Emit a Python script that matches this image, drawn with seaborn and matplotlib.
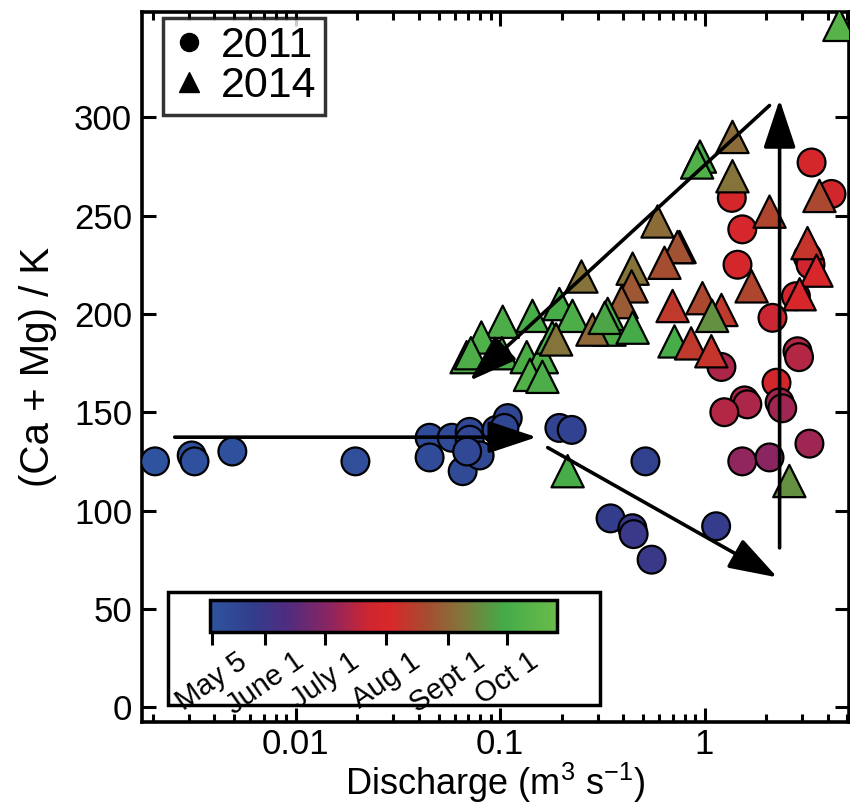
import numpy as np
import pandas as pd
import seaborn as sns
import matplotlib.pyplot as plt
from matplotlib.colors import LinearSegmentedColormap, Normalize
from matplotlib.lines import Line2D
from matplotlib.patches import Rectangle
from matplotlib.ticker import LogLocator, FixedLocator, NullFormatter

# 2011 samples (circles): discharge, (Ca+Mg)/K, day of year
q11 = [0.00205, 0.0031, 0.0032, 0.0049, 0.0196, 0.0452, 0.0452, 0.058, 0.071, 0.071,
       0.0656, 0.0794, 0.069, 0.096, 0.109, 0.105, 0.195, 0.224, 0.514, 0.347,
       0.444, 0.45, 0.551, 1.14,
       3.34, 4.18, 1.36, 1.53, 1.45, 3.2, 3.3, 2.15, 2.85, 2.9,
       2.25, 1.57, 1.62, 1.25, 2.33, 2.4, 1.21, 3.26, 1.53, 2.08, 2.8]
r11 = [125, 128, 125, 130, 125, 137, 127, 137, 140, 136,
       120, 128, 130, 141, 147, 142, 142, 141, 125, 96,
       91, 88, 75, 92,
       277, 261, 259, 243, 225, 229, 225, 198, 181, 178,
       165, 156, 154, 150, 155, 152, 173, 134, 125, 127, 209]
d11 = [126, 127, 127, 128, 130, 133, 133, 134, 135, 135,
       134, 136, 135, 137, 138, 137, 140, 141, 143, 146,
       149, 150, 150, 147,
       210, 208, 210, 211, 210, 205, 205, 203, 196, 196,
       208, 194, 194, 196, 192, 190, 194, 190, 186, 184, 208]

# 2014 samples (triangles)
q14 = [4.57, 1.37, 0.95, 0.92, 1.37, 2.08, 3.65, 3.19, 3.53, 2.92,
       0.755, 1.70, 0.589, 0.738, 0.637, 0.445, 0.44, 0.393, 0.336, 0.343,
       0.445, 0.698, 0.977, 1.21, 1.09, 0.713, 0.86, 1.08, 2.6, 0.214,
       0.25, 0.195, 0.226, 0.144, 0.103, 0.081, 0.0686, 0.072, 0.102, 0.135,
       0.16, 0.14, 0.161, 0.18, 0.188, 0.283, 0.325]
r14 = [347, 290, 280, 277, 270, 252, 260, 236, 222, 210,
       234, 214, 247, 234, 226, 223, 214, 206, 200, 192,
       193, 204, 208, 202, 199, 186, 185, 181, 115, 120,
       219, 205, 199, 199, 196, 188, 178, 180, 180, 178,
       178, 169, 168, 188, 187, 192, 198]
d14 = [285, 247, 273, 280, 250, 230, 232, 222, 214, 214,
       234, 230, 247, 236, 234, 250, 238, 240, 275, 278,
       273, 224, 232, 224, 262, 275, 224, 222, 262, 275,
       250, 275, 278, 275, 278, 280, 280, 278, 276, 276,
       280, 282, 278, 276, 250, 245, 270]

# colour bar ticks (day of year)
tick_days = [125, 152, 182, 213, 244, 274]
tick_labels = ["May 5", "June 1", "July 1", "Aug 1", "Sept 1", "Oct 1"]
day_min, day_max = 124, 299

df = pd.concat([
    pd.DataFrame({"Q": q11, "ratio": r11, "day": d11, "year": 2011}),
    pd.DataFrame({"Q": q14, "ratio": r14, "day": d14, "year": 2014}),
])

stops = [(0.0, "#2F549F"), (0.12, "#323E8C"), (0.22, "#4F2C80"), (0.34, "#8A2562"),
         (0.46, "#CF262F"), (0.52, "#D9272A"), (0.62, "#A84A30"), (0.72, "#85733A"),
         (0.85, "#45AB48"), (1.0, "#6ABB4B")]
cmap = LinearSegmentedColormap.from_list("season", stops)
norm = Normalize(day_min, day_max)

sns.set_style("ticks")
plt.rcParams["font.family"] = ["Liberation Sans", "DejaVu Sans"]
plt.rcParams["mathtext.default"] = "regular"
for key in ["text.color", "axes.labelcolor", "xtick.color", "ytick.color", "axes.edgecolor"]:
    plt.rcParams[key] = "black"

fig = plt.figure(figsize=(8.5, 8.05), dpi=100)
ax = fig.add_axes([0.167, 0.103, 0.832, 0.882])

sns.scatterplot(data=df[df.year == 2011], x="Q", y="ratio", hue="day", palette=cmap,
                hue_norm=norm, marker="o", s=400, edgecolor="black", linewidth=1.6,
                legend=False, ax=ax, zorder=3)
sns.scatterplot(data=df[df.year == 2014], x="Q", y="ratio", hue="day", palette=cmap,
                hue_norm=norm, marker="^", s=540, edgecolor="black", linewidth=1.6,
                legend=False, ax=ax, zorder=3)

ax.set_xscale("log")
ax.set_xlim(0.00177, 5.1)
ax.set_ylim(-7.6, 353.5)
ax.set_yticks(range(0, 301, 50))
ax.xaxis.set_major_locator(FixedLocator([0.01, 0.1, 1]))
ax.set_xticklabels(["0.01", "0.1", "1"])
ax.xaxis.set_minor_locator(LogLocator(base=10, subs=np.arange(2, 10)))
ax.xaxis.set_minor_formatter(NullFormatter())
ax.tick_params(which="both", direction="in", top=True, right=True, width=2.2,
               labelsize=25, pad=7)
ax.tick_params(axis="x", pad=4)
ax.tick_params(which="major", length=10)
ax.tick_params(which="minor", length=6)
for sp in ax.spines.values():
    sp.set_linewidth(2.6)
ax.set_xlabel("Discharge (m$^{3}$ s$^{-1}$)", fontsize=26, labelpad=0)
ax.set_ylabel("(Ca + Mg) / K", fontsize=29, labelpad=12)

# trend arrows (tail, head) in data units
arrows = [((0.00256, 137.3), (0.151, 137.3)),
          ((0.171, 132), (2.27, 66)),
          ((2.33, 81), (2.33, 309)),
          ((2.08, 306), (0.071, 166))]
for tail, head in arrows:
    ax.annotate("", xy=head, xytext=tail, zorder=5,
                arrowprops=dict(arrowstyle="-|>,head_length=1.5,head_width=0.5",
                                lw=2.6, color="black", mutation_scale=20,
                                shrinkA=0, shrinkB=0))

handles = [Line2D([], [], ls="none", marker="o", color="black", markersize=13),
           Line2D([], [], ls="none", marker="^", color="black", markersize=15)]
leg = ax.legend(handles, ["2011", "2014"], loc="upper left",
                bbox_to_anchor=(0.03, 0.992), fontsize=31, frameon=True,
                fancybox=False, handlelength=0.8, handletextpad=0.35,
                borderpad=0.2, labelspacing=0.0, borderaxespad=0)
leg.get_frame().set_edgecolor("black")
leg.get_frame().set_linewidth(2.5)

# colour bar inset with box
box = Rectangle((0.198, 0.124), 0.508, 0.141, transform=fig.transFigure,
                facecolor="white", edgecolor="black", lw=2.5, zorder=6)
fig.patches.append(box)
cax = fig.add_axes([0.247, 0.215, 0.408, 0.040], zorder=7)
sm = plt.cm.ScalarMappable(norm=norm, cmap=cmap)
cb = fig.colorbar(sm, cax=cax, orientation="horizontal")
cb.outline.set_linewidth(2.5)
cb.set_ticks(tick_days)
cax.set_xticklabels(tick_labels, rotation=35, ha="center", va="top", fontsize=21)
cax.tick_params(axis="x", direction="out", length=9, width=2.2, pad=2)

fig.savefig("out.png", dpi=100)
